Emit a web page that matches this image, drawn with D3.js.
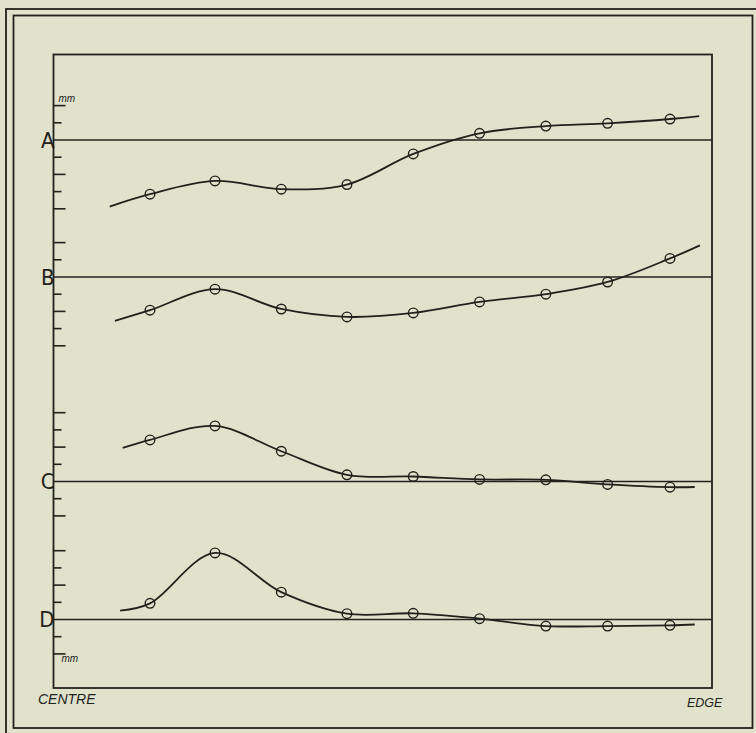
<!DOCTYPE html>
<html>
<head>
<meta charset="utf-8">
<script src="https://cdn.jsdelivr.net/npm/d3@7"></script>
<style>
  html, body { margin: 0; padding: 0; background: #e0e2cc; }
  svg { display: block; }
</style>
</head>
<body>
<svg id="chart" width="756" height="733"></svg>
<script>
// ---------- DATA ----------
// measuring stations from centre to edge (station units)
const stations = [1, 2, 3.02, 4.03, 5.05, 6.07, 7.09, 8.04, 9];
// series names
const seriesNames = ["A", "B", "C", "D"];
// values at each station (tick units, + = above base line)
const valuesA = [-3.15, -2.38, -2.86, -2.59, -0.81, 0.39, 0.81, 0.97, 1.22];
const valuesB = [-1.93, -0.71, -1.86, -2.32, -2.09, -1.45, -1.00, -0.29, 1.08];
const valuesC = [2.42, 3.23, 1.76, 0.39, 0.29, 0.12, 0.10, -0.17, -0.33];
const valuesD = [0.94, 3.87, 1.59, 0.34, 0.36, 0.05, -0.38, -0.38, -0.34];
// free ends of each drawn curve [station, value]
const curveStartA = [0.38, -3.87], curveEndA = [9.45, 1.39];
const curveStartB = [0.46, -2.55], curveEndB = [9.46, 1.84];
const curveStartC = [0.58, 1.95],  curveEndC = [9.38, -0.32];
const curveStartD = [0.54, 0.51],  curveEndD = [9.38, -0.29];
// tick marks on the left scale for each series
const ticksA = [2, 1, -1, -2, -3, -4];
const ticksB = [2, 1, -1, -2, -3, -4];
const ticksC = [4, 3, 2, 1, -1, -2];
const ticksD = [4, 3, 2, 1, -1, -2];
// text labels
const unitLabel = "mm";
const leftLabel = "CENTRE";
const rightLabel = "EDGE";

// ---------- LAYOUT ----------
const ink = "#22221c";
const frame = { left: 53.5, top: 54.5, right: 712, bottom: 688 };
const baseY = [140, 277, 481.5, 619.5];
const unitPx = 17.2;

const svg = d3.select("#chart");

// page borders
svg.append("rect").attr("x", 6).attr("y", 9).attr("width", 770).attr("height", 760)
  .attr("fill", "none").attr("stroke", ink).attr("stroke-width", 1.8);
svg.append("rect").attr("x", 13.5).attr("y", 15.5).attr("width", 739).attr("height", 712.5)
  .attr("fill", "none").attr("stroke", ink).attr("stroke-width", 1.8);

// plot frame
svg.append("rect")
  .attr("x", frame.left).attr("y", frame.top)
  .attr("width", frame.right - frame.left).attr("height", frame.bottom - frame.top)
  .attr("fill", "none").attr("stroke", ink).attr("stroke-width", 1.8);

const x = d3.scaleLinear().domain([0, 10]).range([85, 735]);

const allValues = [valuesA, valuesB, valuesC, valuesD];
const allStarts = [curveStartA, curveStartB, curveStartC, curveStartD];
const allEnds = [curveEndA, curveEndB, curveEndC, curveEndD];
const allTicks = [ticksA, ticksB, ticksC, ticksD];

seriesNames.forEach((name, i) => {
  const b = baseY[i];
  const y = d3.scaleLinear().domain([0, 1]).range([b, b - unitPx]);
  const g = svg.append("g");

  // base line
  g.append("line")
    .attr("x1", frame.left).attr("x2", frame.right)
    .attr("y1", y(0)).attr("y2", y(0))
    .attr("stroke", ink).attr("stroke-width", 1.5);

  // ticks
  g.selectAll("line.tick").data(allTicks[i]).join("line")
    .attr("class", "tick")
    .attr("x1", frame.left)
    .attr("x2", d => frame.left + (Math.abs(d) % 2 === 0 ? 12 : 8))
    .attr("y1", d => y(d)).attr("y2", d => y(d))
    .attr("stroke", ink).attr("stroke-width", 1.6);

  // series letter
  g.append("text")
    .attr("x", frame.left + 1).attr("y", y(0) + 7.8)
    .attr("text-anchor", "end")
    .attr("font-family", "'Liberation Sans Narrow', 'DejaVu Sans Condensed', 'Liberation Sans', sans-serif")
    .attr("font-size", 22)
    .attr("fill", ink)
    .text(name);

  // curve
  const pts = [allStarts[i]]
    .concat(stations.map((s, k) => [s, allValues[i][k]]))
    .concat([allEnds[i]]);
  const line = d3.line()
    .x(d => x(d[0])).y(d => y(d[1]))
    .curve(d3.curveCatmullRom.alpha(0.5));
  g.append("path").attr("d", line(pts))
    .attr("fill", "none").attr("stroke", ink).attr("stroke-width", 1.8);

  // station markers
  g.selectAll("circle").data(stations.map((s, k) => [s, allValues[i][k]])).join("circle")
    .attr("cx", d => x(d[0])).attr("cy", d => y(d[1]))
    .attr("r", 4.8)
    .attr("fill", "none").attr("stroke", ink).attr("stroke-width", 1.4);

  // unit labels
  if (i === 0) {
    g.append("text")
      .attr("x", frame.left + 5).attr("y", y(ticksA[0]) - 4)
      .attr("font-family", "'Liberation Sans', sans-serif")
      .attr("font-style", "italic").attr("font-size", 10)
      .attr("fill", ink).text(unitLabel);
  }
  if (i === 3) {
    g.append("text")
      .attr("x", frame.left + 8).attr("y", y(ticksD[ticksD.length - 1]) + 8.5)
      .attr("font-family", "'Liberation Sans', sans-serif")
      .attr("font-style", "italic").attr("font-size", 10)
      .attr("fill", ink).text(unitLabel);
  }
});

// axis end labels
svg.append("text")
  .attr("x", 38).attr("y", 703.5)
  .attr("font-family", "'Liberation Sans', sans-serif")
  .attr("font-style", "italic").attr("font-size", 14)
  .attr("fill", ink).text(leftLabel);
svg.append("text")
  .attr("x", 687).attr("y", 706.5)
  .attr("font-family", "'Liberation Sans', sans-serif")
  .attr("font-style", "italic").attr("font-size", 12.5)
  .attr("fill", ink).text(rightLabel);
</script>
</body>
</html>
